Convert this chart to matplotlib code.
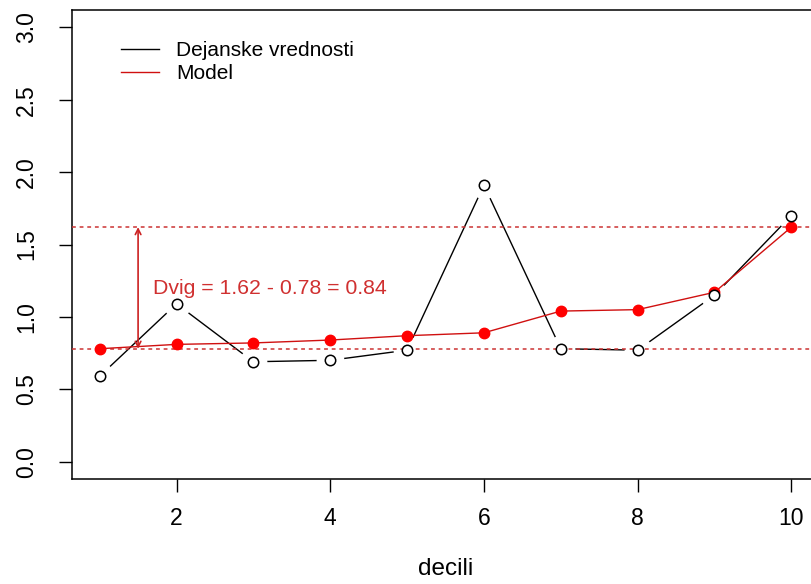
import matplotlib.pyplot as plt
from matplotlib.lines import Line2D

plt.rcParams['font.family'] = ['Liberation Sans', 'DejaVu Sans']

# decile index and values
decili = list(range(1, 11))
dejanske = [0.59, 1.09, 0.69, 0.70, 0.77, 1.91, 0.78, 0.77, 1.15, 1.70]
model = [0.78, 0.81, 0.82, 0.84, 0.87, 0.89, 1.04, 1.05, 1.17, 1.62]

donja, gornja = 0.78, 1.62
x_strelica = 1.5
y_ticks = [0.0, 0.5, 1.0, 1.5, 2.0, 2.5, 3.0]
x_ticks = [2, 4, 6, 8, 10]

fig = plt.figure(figsize=(8.11, 5.84), dpi=100)
ax = fig.add_axes([72 / 811, 1 - 479 / 584, (819 - 72) / 811, (479 - 10) / 584])

# actual values: line with gaps around open circles (R type="b")
ax.plot(decili, dejanske, color='black', lw=1, zorder=2)
ax.plot(decili, dejanske, 'o', ms=20, mfc='white', mec='none', zorder=3)
ax.plot(decili, dejanske, 'o', ms=7.5, mfc='white', mec='black', mew=1.1, zorder=6)

# reference levels
ax.axhline(gornja, color='#CC3333', lw=1.1, ls=(0, (2.5, 2.5)), zorder=4)
ax.axhline(donja, color='#CC3333', lw=1.1, ls=(0, (2.5, 2.5)), zorder=4)

# model
ax.plot(decili, model, color='#D01010', lw=1, marker='o', ms=7.5, mfc='red', mec='red',
        zorder=5)

# the rise between the two levels
ax.annotate('', xy=(x_strelica, gornja), xytext=(x_strelica, donja),
            arrowprops=dict(arrowstyle='<->', color='#CC2222', lw=1.2,
                            mutation_scale=10, shrinkA=0, shrinkB=0), zorder=5)
ax.text(1.69, 1.195, 'Dvig = %.2f - %.2f = %.2f' % (gornja, donja, gornja - donja),
        color='#D03030', fontsize=15.3, va='center', ha='left', zorder=7)

ax.set_xlim(0.64, 10.36)
ax.set_ylim(-0.12, 3.12)
ax.set_xticks(x_ticks)
ax.set_yticks(y_ticks)
ax.set_yticklabels(['%.1f' % v for v in y_ticks], rotation=90, va='center')
ax.tick_params(axis='both', direction='out', length=9.5, width=1, labelsize=16.5, color='black')
ax.tick_params(axis='x', pad=11)
ax.tick_params(axis='y', pad=15)
for s in ax.spines.values():
    s.set_linewidth(1.1)

ax.set_xlabel('decili', fontsize=17.5, labelpad=20)

handles = [Line2D([], [], color='black', lw=1),
           Line2D([], [], color='#D01010', lw=1)]
ax.legend(handles, ['Dejanske vrednosti', 'Model'], loc='upper left',
          bbox_to_anchor=(0.040, 0.974), frameon=False, fontsize=15,
          handlelength=1.85, handletextpad=0.82, labelspacing=0.2)

fig.savefig('out.png', dpi=100)
